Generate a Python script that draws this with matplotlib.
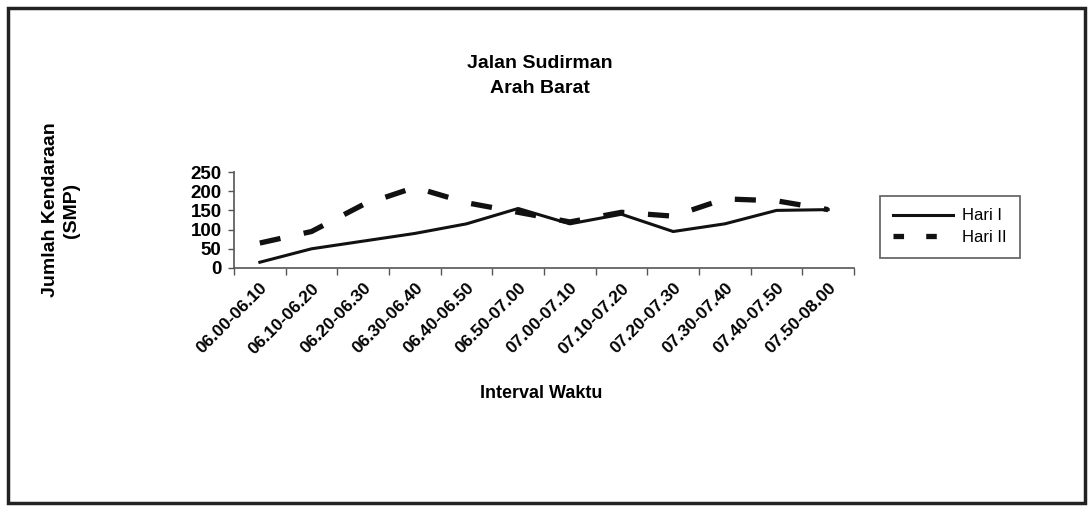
import matplotlib
matplotlib.use("Agg")
import matplotlib.pyplot as plt
from matplotlib.patches import Rectangle
from matplotlib.lines import Line2D

categories = ["06.00-06.10", "06.10-06.20", "06.20-06.30", "06.30-06.40",
              "06.40-06.50", "06.50-07.00", "07.00-07.10", "07.10-07.20",
              "07.20-07.30", "07.30-07.40", "07.40-07.50", "07.50-08.00"]
hari_1 = [15, 50, 70, 90, 115, 155, 115, 140, 95, 115, 150, 152]
hari_2 = [65, 95, 165, 210, 170, 145, 120, 145, 135, 180, 175, 152]
y_ticks = [0, 50, 100, 150, 200, 250]
series_names = ["Hari I", "Hari II"]

plt.rcParams['font.family'] = ['Liberation Sans', 'DejaVu Sans']

W, H = 1092, 525
fig = plt.figure(figsize=(W / 100, H / 100), dpi=100)
fig.patch.set_facecolor('white')

ax = fig.add_axes([234 / W, 1 - 268 / H, (854 - 234) / W, (268 - 172) / H])
x = list(range(len(categories)))
ax.plot(x, hari_1, color='#111111', lw=2.2, solid_joinstyle='round')
ax.plot(x, hari_2, color='#111111', lw=3.8, linestyle=(0, (4, 4.5)))

ax.set_xlim(-0.5, len(categories) - 0.5)
ax.set_ylim(0, 250)
ax.set_yticks(y_ticks)
ax.set_yticklabels([str(v) for v in y_ticks], fontsize=13.5, fontweight='bold')
ax.set_xticks(x)
ax.set_xticklabels(categories, rotation=45, ha='right', va='top',
                   rotation_mode='anchor', fontsize=12.5, fontweight='bold')
ax.tick_params(axis='x', which='major', length=0, pad=9)
ax.set_xticks([i - 0.5 for i in range(len(categories) + 1)], minor=True)
ax.tick_params(axis='x', which='minor', length=5, direction='out', width=1, color='#555555')
ax.tick_params(axis='y', length=4, direction='out', width=1, color='#555555', pad=5)
for s in ['top', 'right']:
    ax.spines[s].set_visible(False)
for s in ['left', 'bottom']:
    ax.spines[s].set_color('#555555')
    ax.spines[s].set_linewidth(1.2)

fig.text(540 / W, 1 - 76 / H, "Jalan Sudirman\nArah Barat", ha='center', va='center',
         fontsize=14, fontweight='bold', linespacing=1.55)
fig.text(61 / W, 1 - 210 / H, "Jumlah Kendaraan\n(SMP)", ha='center', va='center',
         rotation=90, fontsize=14, fontweight='bold', multialignment='center',
         linespacing=1.25)
fig.text(541 / W, 1 - 394 / H, "Interval Waktu", ha='center', va='center',
         fontsize=13, fontweight='bold')

handles = [Line2D([], [], color='#111111', lw=2.2),
           Line2D([], [], color='#111111', lw=3.8, linestyle=(0, (2, 4.2)))]
leg = fig.legend(handles, series_names, loc='upper left',
                 bbox_to_anchor=(880 / W, 1 - 196 / H), frameon=True, fancybox=False,
                 fontsize=12, handlelength=3.6, borderpad=0.75, labelspacing=0.4,
                 handletextpad=0.6, borderaxespad=0)
leg.get_frame().set_edgecolor('#444444')
leg.get_frame().set_linewidth(1.3)

fig.patches.append(Rectangle((8 / W, 1 - 503 / H), (1085 - 8) / W, (503 - 8) / H,
                             transform=fig.transFigure, fill=False, edgecolor='#222222',
                             linewidth=2.5))

fig.savefig("out.png", dpi=100)
